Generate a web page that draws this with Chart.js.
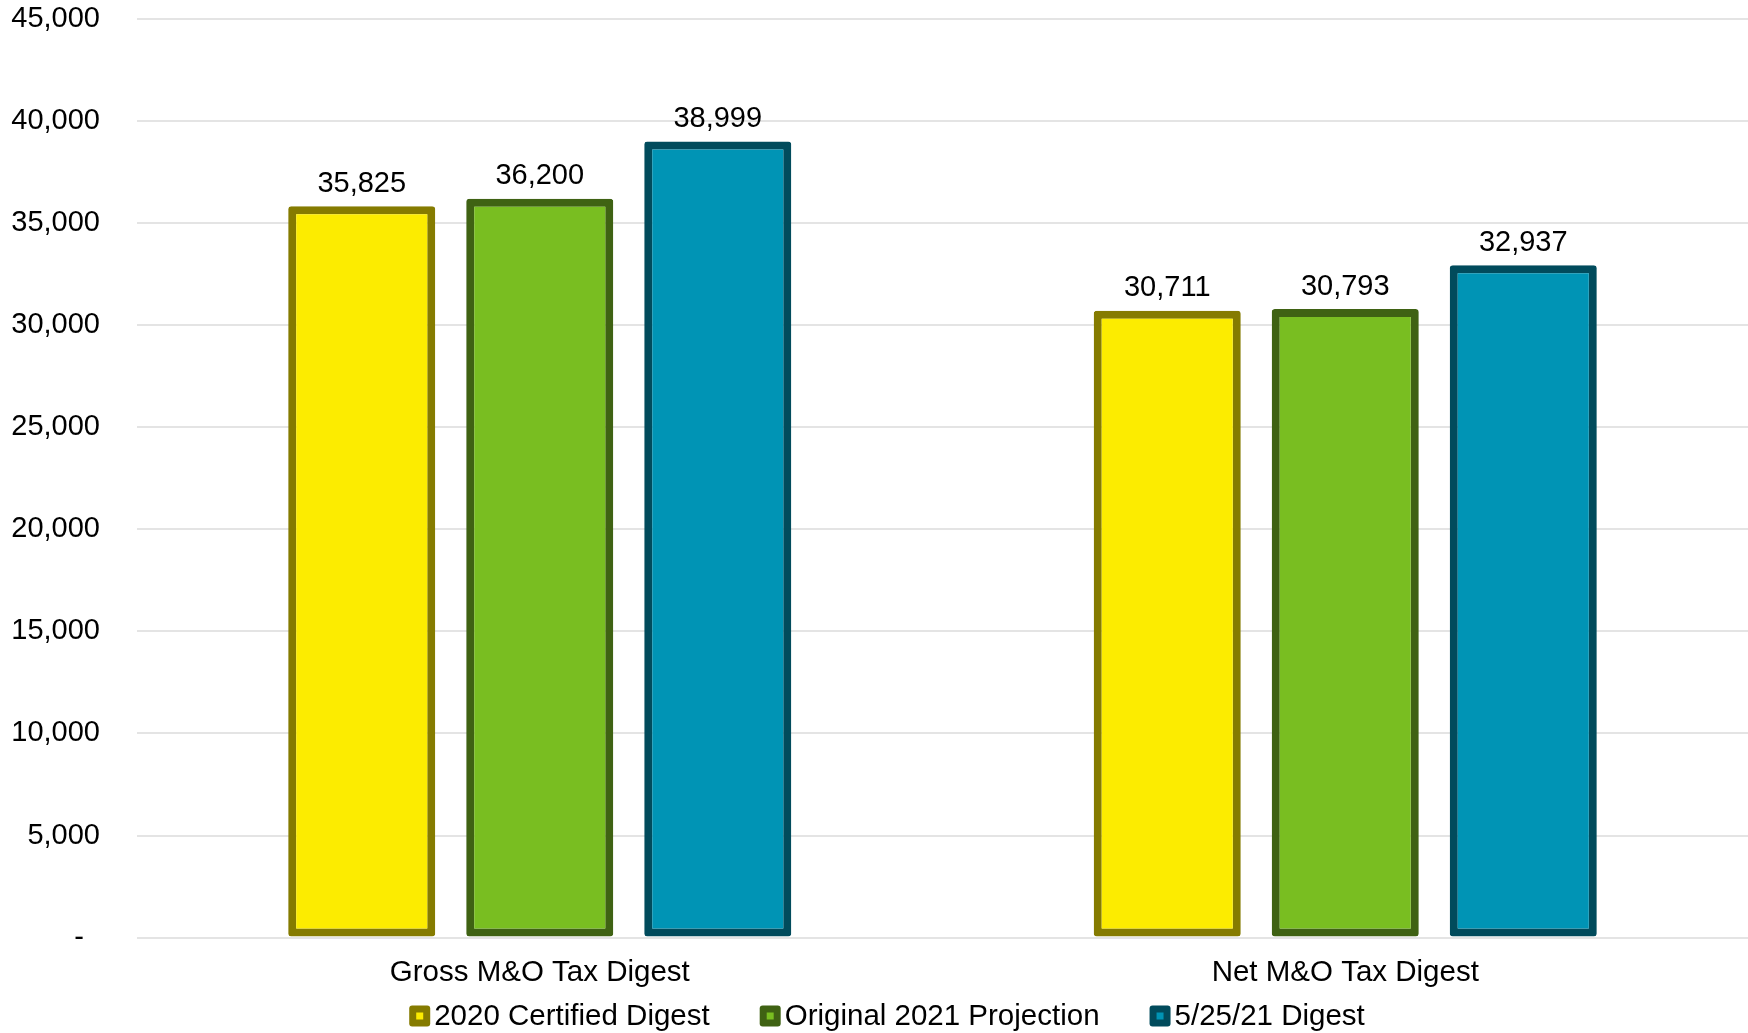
<!DOCTYPE html>
<html>
<head>
<meta charset="utf-8">
<script src="https://cdn.jsdelivr.net/npm/chart.js@4.4.1/dist/chart.umd.min.js"></script>
<style>
  html, body { margin: 0; padding: 0; background: #fff; }
  #wrap { width: 1748px; height: 1033px; }
</style>
</head>
<body>
<div id="wrap"><canvas id="digestChart" width="1748" height="1033"></canvas></div>
<script>
// categories and series values (thousands)
const categories = ["Gross M&O Tax Digest", "Net M&O Tax Digest"];
const certified2020 = [35825, 30711];
const projection2021 = [36200, 30793];
const digest52521 = [38999, 32937];
const seriesNames = ["2020 Certified Digest", "Original 2021 Projection", "5/25/21 Digest"];

const FONT = '"Liberation Sans", Arial, sans-serif';
const fmt = v => v === 0 ? "-  " : v.toLocaleString("en-US");

// value labels above each bar
const valueLabels = {
    id: 'valueLabels',
    afterDatasetsDraw(chart) {
        const ctx = chart.ctx;
        ctx.save();
        ctx.font = '29px ' + FONT;
        ctx.fillStyle = '#000';
        ctx.textAlign = 'center';
        ctx.textBaseline = 'bottom';
        chart.data.datasets.forEach((ds, i) => {
            chart.getDatasetMeta(i).data.forEach((bar, j) => {
                ctx.fillText(fmt(ds.data[j]), bar.x, bar.y - 8);
            });
        });
        ctx.restore();
    }
};

// legend drawn like the original: small bordered squares, tight text
const bottomLegend = {
    id: 'bottomLegend',
    afterDraw(chart) {
        const ctx = chart.ctx;
        const box = 21, inner = 7, gap = 4, spacing = 50;
        ctx.save();
        ctx.font = '29.5px ' + FONT;
        ctx.textBaseline = 'middle';
        ctx.textAlign = 'left';
        const items = chart.data.datasets.map(ds => ({
            ds, w: box + gap + ctx.measureText(ds.label).width
        }));
        const total = items.reduce((s, it) => s + it.w, 0) + spacing * (items.length - 1);
        let x = (chart.width - total) / 2 + 13;
        const y = 1016;
        items.forEach(it => {
            ctx.fillStyle = it.ds.borderColor;
            ctx.beginPath();
            ctx.roundRect(x, y - box / 2, box, box, 3);
            ctx.fill();
            ctx.fillStyle = it.ds.backgroundColor;
            ctx.fillRect(x + (box - inner) / 2, y - inner / 2, inner, inner);
            ctx.fillStyle = '#000';
            ctx.fillText(it.ds.label, x + box + gap, y + 1);
            x += it.w + spacing;
        });
        ctx.restore();
    }
};

const data = {
    labels: categories,
    datasets: [{
        label: seriesNames[0],
        data: certified2020,
        backgroundColor: '#fcec00',
        borderColor: '#857b00'
    }, {
        label: seriesNames[1],
        data: projection2021,
        backgroundColor: '#79be21',
        borderColor: '#3f6213'
    }, {
        label: seriesNames[2],
        data: digest52521,
        backgroundColor: '#0094b5',
        borderColor: '#014b5c'
    }]
};

data.datasets.forEach(ds => {
    ds.borderWidth = 8;
    ds.borderSkipped = false;
    ds.borderRadius = 3;
    ds.categoryPercentage = 0.663;
    ds.barPercentage = 0.826;
});

Chart.defaults.font.family = FONT;
Chart.defaults.color = '#000';

const config = {
    type: 'bar',
    data: data,
    plugins: [valueLabels, bottomLegend],
    options: {
        responsive: false,
        animation: false,
        devicePixelRatio: 1,
        layout: { padding: { left: 0, top: 19, right: 0, bottom: 32 } },
        plugins: {
            tooltip: { enabled: false },
            legend: { display: false }
        },
        scales: {
            x: {
                grid: { display: false },
                border: { display: false },
                ticks: { font: { size: 29.5 }, padding: 10 }
            },
            y: {
                min: 0,
                max: 45000,
                border: { display: false },
                grid: { color: '#e4e4e4', lineWidth: 2, drawTicks: false },
                ticks: {
                    stepSize: 5000,
                    font: { size: 29 },
                    padding: 37,
                    callback: v => fmt(v)
                },
                afterFit(scale) {
                    scale.width = 137;
                    scale.paddingTop = 0;
                    scale.paddingBottom = 0;
                }
            }
        }
    }
};

const digestChart = new Chart(document.getElementById('digestChart'), config);
</script>
</body>
</html>
